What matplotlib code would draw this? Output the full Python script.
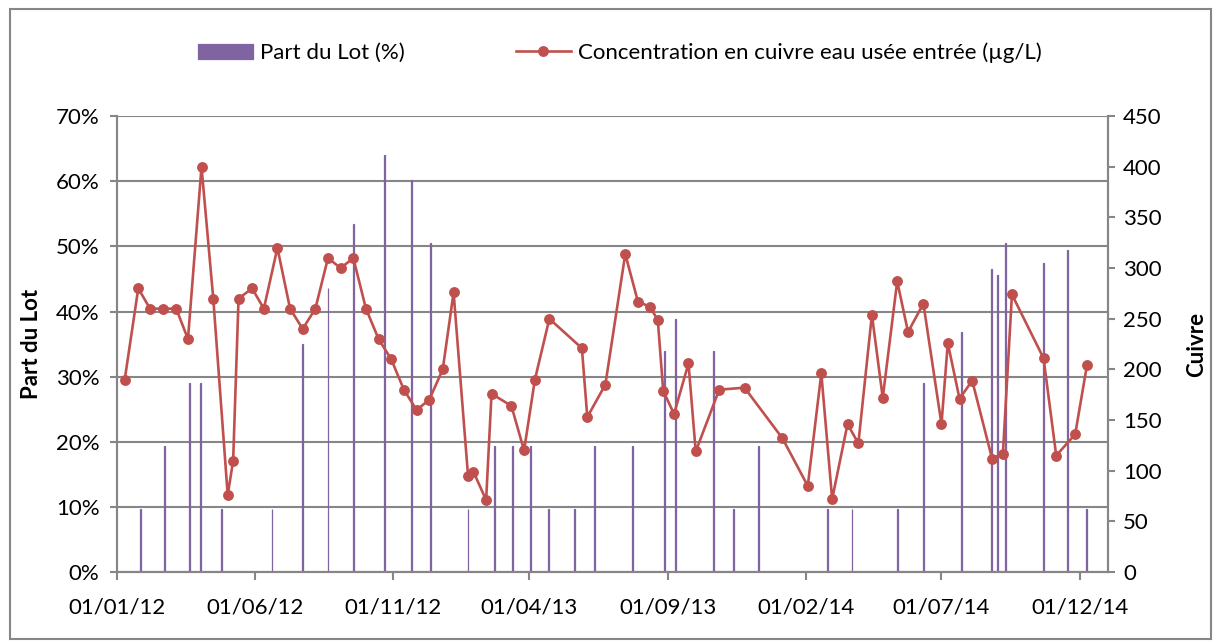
import matplotlib.pyplot as plt
import matplotlib.dates as mdates
import matplotlib.ticker as mticker
from matplotlib.patches import Rectangle
import pandas as pd

plt.rcParams['font.family'] = ['Lato', 'DejaVu Sans']

# concentration en cuivre (µg/L)
cu_dates = ['2012-01-09', '2012-01-24', '2012-02-06', '2012-02-20', '2012-03-06', '2012-03-19',
            '2012-04-03', '2012-04-16', '2012-05-02', '2012-05-08', '2012-05-14', '2012-05-29',
            '2012-06-11', '2012-06-26', '2012-07-10', '2012-07-24', '2012-08-07', '2012-08-21',
            '2012-09-04', '2012-09-18', '2012-10-02', '2012-10-16', '2012-10-30', '2012-11-13',
            '2012-11-27', '2012-12-11', '2012-12-26', '2013-01-07', '2013-01-23', '2013-01-29',
            '2013-02-12', '2013-02-18', '2013-03-12', '2013-03-26', '2013-04-07', '2013-04-23',
            '2013-05-29', '2013-06-04', '2013-06-24', '2013-07-16', '2013-07-30', '2013-08-12',
            '2013-08-21', '2013-08-27', '2013-09-08', '2013-09-24', '2013-10-02', '2013-10-28',
            '2013-11-25', '2014-01-06', '2014-02-03', '2014-02-18', '2014-03-02', '2014-03-19',
            '2014-03-31', '2014-04-15', '2014-04-27', '2014-05-13', '2014-05-25', '2014-06-11',
            '2014-07-01', '2014-07-08', '2014-07-21', '2014-08-04', '2014-08-26', '2014-09-07',
            '2014-09-17', '2014-10-22', '2014-11-05', '2014-11-26', '2014-12-09']
cu_values = [190, 280, 260, 260, 260, 230, 400, 270, 76, 110, 270, 280,
             260, 320, 260, 240, 260, 310, 300, 310, 260, 230, 210, 180,
             160, 170, 200, 276, 95, 99, 71, 176, 164, 120, 190, 250,
             221, 153, 185, 314, 267, 262, 249, 179, 156, 206, 119, 180,
             182, 132, 85, 196, 72, 146, 127, 254, 172, 287, 237, 265,
             146, 226, 171, 189, 112, 117, 274, 211, 115, 136, 204]

# part du lot (%)
lot_dates = ['2012-01-26', '2012-02-22', '2012-03-21', '2012-04-02', '2012-04-25', '2012-06-20',
             '2012-07-24', '2012-08-21', '2012-09-18', '2012-10-23', '2012-11-21', '2012-12-12',
             '2013-01-23', '2013-02-21', '2013-03-13', '2013-04-02', '2013-04-22', '2013-05-21',
             '2013-06-12', '2013-07-24', '2013-08-28', '2013-09-10', '2013-10-22', '2013-11-13',
             '2013-12-10', '2014-02-25', '2014-03-24', '2014-05-13', '2014-06-11', '2014-07-23',
             '2014-08-25', '2014-09-01', '2014-09-10', '2014-10-22', '2014-11-17', '2014-12-09']
lot_values = [9.7, 19.4, 29.1, 29.1, 9.7, 9.7, 35.0, 43.6, 53.4, 64.1, 60.2, 50.5,
              9.7, 19.4, 19.4, 19.4, 9.7, 9.7, 19.4, 19.4, 34.0, 38.9, 34.0, 9.7,
              19.4, 9.7, 9.7, 9.7, 29.1, 36.9, 46.5, 45.6, 50.5, 47.5, 49.4, 9.7]

# graduations de l'axe des dates, tous les 5 mois
x_ticks = pd.date_range('2012-01-01', '2014-12-01', freq='5MS')

cu_x = pd.to_datetime(cu_dates)
lot_x = pd.to_datetime(lot_dates)

grey = '#868686'
fig = plt.figure(figsize=(12.15, 6.42), dpi=100)
ax = fig.add_axes([0.0967, 0.109, 0.815, 0.710])
ax2 = ax.twinx()

ax.bar(lot_x, [v / 100 for v in lot_values], width=1.0, color='#8064A2',
       edgecolor='#8064A2', linewidth=0.9, label='Part du Lot (%)', zorder=3)
ax2.plot(cu_x, cu_values, color='#C0504D', lw=1.9, marker='o', markersize=6.8,
         label='Concentration en cuivre eau usée entrée (µg/L)', zorder=4)

ax.set_xlim(pd.Timestamp('2012-01-01'), pd.Timestamp('2015-01-01'))
ax.set_ylim(0, 0.70)
ax2.set_ylim(0, 450)
ax.yaxis.set_major_locator(mticker.MultipleLocator(0.10))
ax.yaxis.set_major_formatter(mticker.FuncFormatter(lambda v, p: f'{v * 100:.0f}%'))
ax2.yaxis.set_major_locator(mticker.MultipleLocator(50))
ax.set_xticks(x_ticks)
ax.xaxis.set_major_formatter(mdates.DateFormatter('%d/%m/%y'))

ax.grid(axis='y', color=grey, lw=1.5, zorder=0)
ax.set_axisbelow(True)
for a in (ax, ax2):
    a.spines['top'].set_visible(False)
    for s in ('left', 'right', 'bottom'):
        a.spines[s].set_color(grey)
        a.spines[s].set_linewidth(1.5)
ax.tick_params(axis='y', length=5, width=1.5, color=grey, pad=8, labelsize=16)
ax.tick_params(axis='x', length=6, width=1.5, color=grey, pad=12, labelsize=16)
ax2.tick_params(axis='y', length=5, width=1.5, color=grey, pad=6, labelsize=16)

ax.set_ylabel('Part du Lot', fontsize=16, fontweight='bold', labelpad=10)
ax2.set_ylabel('Cuivre', fontsize=16, fontweight='bold', labelpad=18)

h1, l1 = ax.get_legend_handles_labels()
h2, l2 = ax2.get_legend_handles_labels()
fig.legend(h1 + h2, l1 + l2, loc='upper center', bbox_to_anchor=(0.51, 0.965), ncol=2,
           frameon=False, fontsize=16, handlelength=2.5, columnspacing=5, handletextpad=0.3)

fig.patches.append(Rectangle((0.008, 0.004), 0.989, 0.982, transform=fig.transFigure,
                             fill=False, edgecolor=grey, lw=1.5))

fig.savefig('out.png', dpi=100)
